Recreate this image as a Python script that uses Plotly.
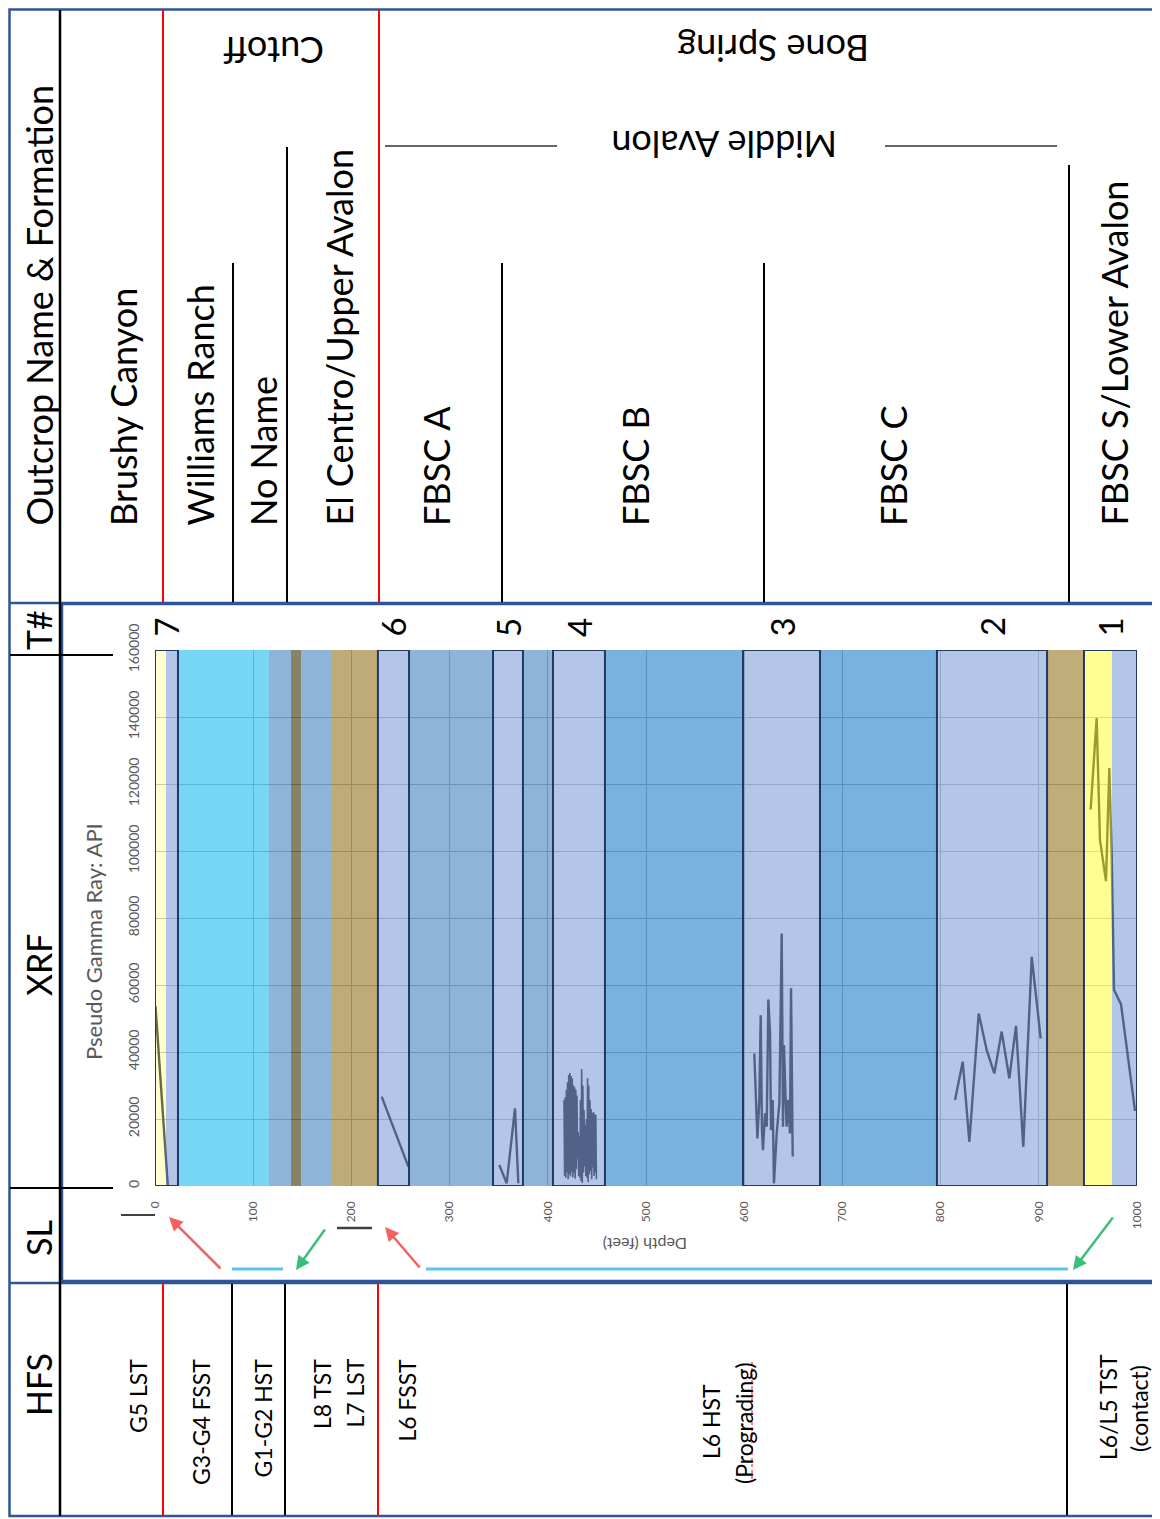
import plotly.graph_objects as go

FIG_W, FIG_H = 1160, 1519
OFF = 8  # the page body adds an 8px margin; compensate so positions match

# ---------------- data ----------------
# facies bands along depth (feet)
band_from = [0, 11.2, 23.4, 116, 138.5, 148.7, 179.2, 227, 258.7, 344.2, 374.7,
             405.3, 458.2, 598.8, 677.2, 796.3, 908.4, 946, 974.5]
band_to = [11.2, 23.4, 116, 138.5, 148.7, 179.2, 227, 258.7, 344.2, 374.7, 405.3,
           458.2, 598.8, 677.2, 796.3, 908.4, 946, 974.5, 1000]
band_facies = ["pale", "sample", "cyan", "steel", "olive", "steel", "tan", "sample",
               "steel", "sample", "steel", "sample", "medium", "sample", "medium",
               "sample", "tan2", "yellow", "sample"]

# sampled intervals (T#)
sample_from = [0, 227, 344.2, 405.3, 598.8, 796.3, 946]
sample_to = [23.4, 258.7, 374.7, 458.2, 677.2, 908.4, 1000]
sample_id = ["7", "6", "5", "4", "3", "2", "1"]

# pseudo gamma ray curves (depth ft, API)
gr_depth_7 = [0.5, 13.0]
gr_api_7 = [53700, 300]
gr_depth_6 = [230.8, 258.0]
gr_api_6 = [26700, 5800]
gr_depth_5 = [350.6, 358.1, 366.6, 370.0]
gr_api_5 = [6300, 800, 23200, 800]
gr_depth_4 = [416.5, 417.1, 417.7, 418.3, 418.9, 419.5, 420.1, 420.7, 421.3, 421.9,
              422.5, 423.1, 423.7, 424.3, 424.9, 425.5, 426.1, 426.7, 427.3, 427.9,
              428.5, 429.1, 429.7, 430.3, 430.9, 431.5, 432.1, 432.7, 433.3, 433.9,
              434.5, 435.1, 435.7, 436.3, 436.9, 437.5, 438.1, 438.7, 439.3, 439.9,
              440.5, 441.1, 441.7, 442.3, 442.9, 443.5, 444.1, 444.7, 445.3, 445.9,
              446.5, 447.1, 447.7, 448.3, 448.9, 449.5]
gr_api_4 = [25700, 3000, 26500, 2500, 28700, 4000, 31000, 2000, 33100, 3500,
            33700, 2800, 32800, 4200, 32200, 2600, 30100, 3800, 29500, 2200,
            28700, 5000, 27000, 8000, 16100, 3000, 15000, 2500, 25700, 1500,
            34900, 900, 30000, 4000, 22700, 6000, 18200, 3000, 20000, 2500,
            32200, 1200, 30000, 3500, 25700, 4500, 23000, 2000, 21800, 5500,
            22100, 3000, 21500, 4000, 21200, 2000]
gr_depth_3 = [610.3, 611.7, 613.4, 615.4, 616.8, 618.1, 619.1, 621.2, 622.9, 624.6,
              626.3, 627.3, 629.0, 630.3, 633.1, 635.8, 638.2, 639.5, 640.5, 642.2,
              643.2, 644.9, 646.6, 647.7, 649.4]
gr_api_3 = [39600, 27700, 14200, 25700, 51000, 16700, 10700, 21700, 17700, 55700,
            45600, 16700, 25700, 800, 15700, 24700, 75400, 17700, 42100, 25700,
            17700, 25700, 15700, 59000, 8800]
gr_depth_2 = [814.7, 822.5, 829.3, 838.8, 846.9, 854.7, 862.2, 870.0, 876.8, 884.2, 892.8, 901.9]
gr_api_2 = [25700, 37100, 13200, 51500, 40600, 33600, 46100, 32100, 47800, 11700, 68400, 44100]
gr_depth_1 = [952.8, 958.9, 962.3, 968.4, 971.8, 974.2, 976.6, 983.7, 998.0]
gr_api_1 = [112400, 139700, 103300, 91000, 124800, 99100, 58500, 54300, 22400]

# text content
outcrop_names = ["Brushy Canyon", "Williams Ranch", "No Name", "El Centro/Upper Avalon",
                 "FBSC A", "FBSC B", "FBSC C", "FBSC S/Lower Avalon"]
hfs_top_aligned = ["G5 LST", "G3-G4 FSST", "G1-G2 HST", "L8 TST", "L7 LST", "L6 FSST"]

# ---------------- styles ----------------
facies_fill = {
    "pale": "rgba(255,255,130,0.4)",
    "sample": "rgba(130,160,215,0.6)",
    "cyan": "rgba(28,185,238,0.6)",
    "steel": "rgba(68,130,192,0.6)",
    "olive": "rgba(55,50,0,0.6)",
    "tan": "rgba(147,115,30,0.6)",
    "medium": "rgba(32,125,202,0.6)",
    "tan2": "rgba(150,120,33,0.6)",
    "yellow": "rgba(255,255,72,0.6)",
}
FONT = "Lato"
BLUE = "#2F5597"
NAVY = "#1F3864"
RED = "#FF0000"
GRAY = "#595959"


def X(p):
    return (p - OFF) / FIG_W


def Y(p):
    return 1 - (p - OFF) / FIG_H


fig = go.Figure()

# curve (drawn under translucent facies overlays)
seg_d = [gr_depth_7, gr_depth_6, gr_depth_5, gr_depth_3, gr_depth_2, gr_depth_1]
seg_g = [gr_api_7, gr_api_6, gr_api_5, gr_api_3, gr_api_2, gr_api_1]
all_d, all_g = [], []
for d, g in zip(seg_d, seg_g):
    all_d += d + [None]
    all_g += g + [None]
fig.add_trace(go.Scatter(x=all_d, y=all_g, mode="lines",
                         line=dict(color="#05070f", width=2.4),
                         connectgaps=False, showlegend=False, hoverinfo="skip"))
fig.add_trace(go.Scatter(x=gr_depth_4, y=gr_api_4, mode="lines",
                         line=dict(color="#05070f", width=1.6),
                         showlegend=False, hoverinfo="skip"))

shapes = []
# facies overlays
for a, b, f in zip(band_from, band_to, band_facies):
    shapes.append(dict(type="rect", xref="x", yref="y", x0=a, x1=b, y0=0, y1=160000,
                       fillcolor=facies_fill[f], line=dict(width=0), layer="above"))
# sample boxes
for a, b in zip(sample_from, sample_to):
    shapes.append(dict(type="rect", xref="x", yref="y", x0=a, x1=b, y0=0, y1=160000,
                       fillcolor="rgba(0,0,0,0)", line=dict(color=NAVY, width=2),
                       layer="above"))


def seg(x0, y0, x1, y1, color, width=2, dash="solid"):
    shapes.append(dict(type="line", xref="paper", yref="paper",
                       x0=X(x0), y0=Y(y0), x1=X(x1), y1=Y(y1),
                       line=dict(color=color, width=width, dash=dash), layer="above"))


def box(x0, y0, x1, y1, color, width=2.5):
    shapes.append(dict(type="rect", xref="paper", yref="paper",
                       x0=X(x0), y0=Y(y0), x1=X(x1), y1=Y(y1),
                       line=dict(color=color, width=width),
                       fillcolor="rgba(0,0,0,0)", layer="above"))


# frames
box(9.5, 9.5, 1157, 1516, BLUE)
seg(9, 603, 1157, 603, BLUE, 2.5)
box(62, 604, 1157, 1281, BLUE, 2.5)
seg(9, 1283, 1157, 1283, BLUE, 2.5)
seg(60, 10, 60, 1516, "black", 2.5)
seg(10, 655, 113, 655, "black", 2)
seg(10, 1188, 113, 1188, "black", 2)

# header dividers
seg(163, 10, 163, 602, RED, 2)
seg(379, 10, 379, 602, RED, 2)
seg(233, 263, 233, 602, "black", 2)
seg(287, 147, 287, 602, "black", 2)
seg(502, 263, 502, 602, "black", 2)
seg(764, 263, 764, 602, "black", 2)
seg(1069, 165, 1069, 602, "black", 2)
seg(385, 146, 557, 146, "#333333", 1.5)
seg(885, 146, 1057, 146, "#333333", 1.5)

# HFS dividers
seg(163, 1284, 163, 1515, RED, 2)
seg(232, 1284, 232, 1515, "black", 2)
seg(285, 1284, 285, 1515, "black", 2)
seg(378, 1284, 378, 1515, RED, 2)
seg(1067, 1284, 1067, 1515, "black", 2)

# SL row marks
seg(121, 1215, 155, 1215, "#404040", 2)
seg(337, 1228, 372, 1228, "#404040", 2.5)
seg(232, 1269, 283, 1269, "#5BC5F2", 3)
seg(426, 1269, 1068, 1269, "#5BC5F2", 3)
# spell-check squiggle
seg(752, 1362, 752, 1480, "#FF3030", 1.2, "dot")

annotations = []


def txt(text, x, y, size, angle=-90, xa="center", ya="middle", color="black", align="center"):
    annotations.append(dict(text=text, x=X(x), y=Y(y), xref="paper", yref="paper",
                            showarrow=False, textangle=angle, xanchor=xa, yanchor=ya,
                            align=align,
                            font=dict(family=FONT, size=size, color=color)))


# header texts
txt("Outcrop Name &amp; Formation", 38, 528, 36, ya="bottom")
for name, cx in zip(outcrop_names, [123, 199, 263, 338, 436, 635, 893, 1113]):
    txt(name, cx, 528, 36, ya="bottom")
txt("Cutoff", 274, 51, 36, angle=180)
txt("Bone Spring", 773, 49, 36, angle=180)
txt("Middle Avalon", 724, 145, 36, angle=180)

# side labels
txt("T#", 38, 630, 34)
txt("XRF", 38, 965, 34)
txt("SL", 38, 1238, 34)
txt("HFS", 38, 1385, 34)

# HFS texts
for t, cx in zip(hfs_top_aligned, [138, 201, 262, 322, 354, 406]):
    txt(t, cx, 1357, 23, ya="top")
txt("L6 HST", 711, 1422, 23)
txt("(Prograding)", 744, 1423, 23)
txt("L6/L5 TST", 1108, 1407, 23)
txt("(contact)", 1139, 1409, 23)

# sample numbers above boxes
for a, b, s in zip(sample_from, sample_to, sample_id):
    annotations.append(dict(text=s, x=(a + b) / 2, y=Y(627), xref="x", yref="paper",
                            showarrow=False, textangle=-90, xanchor="center", yanchor="middle",
                            font=dict(family=FONT, size=33, color="black")))

# axis titles
txt("Pseudo Gamma Ray: API", 93, 941, 22, color=GRAY)
txt("Depth (feet)", 645, 1245, 16, angle=180, color=GRAY)


# SL arrows
def arrow(hx, hy, tx, ty, color):
    annotations.append(dict(text="", x=X(hx), y=Y(hy), xref="paper", yref="paper",
                            ax=tx - hx, ay=ty - hy, axref="pixel", ayref="pixel",
                            showarrow=True, arrowhead=2, arrowsize=1.1, arrowwidth=2.5,
                            arrowcolor=color, standoff=0, startstandoff=0))


arrow(169, 1217, 222, 1270, "#F4625E")
arrow(296, 1270, 326, 1228, "#3DBE78")
arrow(385, 1227, 421, 1269, "#F4625E")
arrow(1073, 1270, 1114, 1216, "#3DBE78")

fig.update_layout(
    width=FIG_W, height=FIG_H, autosize=False,
    margin=dict(l=0, r=0, t=0, b=0, pad=0, autoexpand=False),
    paper_bgcolor="white", plot_bgcolor="white",
    showlegend=False,
    shapes=shapes, annotations=annotations,
    xaxis=dict(domain=[X(155), X(1137)], range=[0, 1000], tick0=0, dtick=100,
               automargin=False,
               showgrid=True, gridcolor="rgb(175,175,175)", gridwidth=1,
               zeroline=False, showline=False, ticks="", tickangle=-90,
               ticklabelstandoff=12,
               tickfont=dict(family=FONT, size=12, color=GRAY), fixedrange=True),
    yaxis=dict(domain=[Y(1186), Y(650)], range=[0, 160000], tick0=0, dtick=20000,
               tickformat="d", automargin=False,
               showgrid=True, gridcolor="rgb(175,175,175)", gridwidth=1,
               zeroline=False, showline=False, ticks="", tickangle=-90,
               ticklabelstandoff=12,
               tickfont=dict(family=FONT, size=14, color=GRAY), fixedrange=True),
)

fig.write_html("out.html")
